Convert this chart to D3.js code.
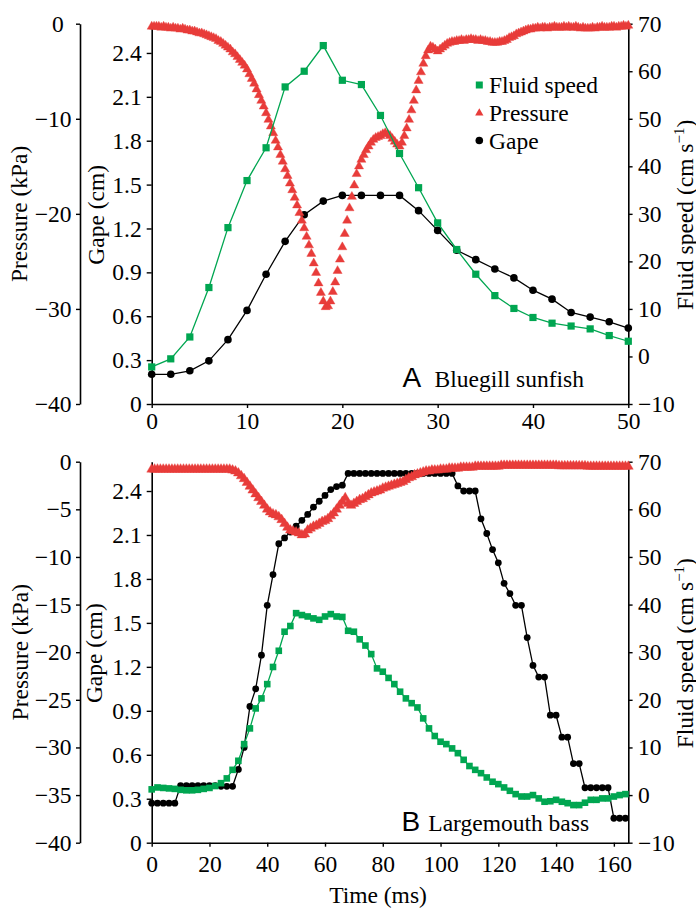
<!DOCTYPE html>
<html><head><meta charset="utf-8">
<script src="https://cdn.jsdelivr.net/npm/d3@7"></script>
<style>
body{margin:0;background:#fff}
svg{display:block}
text{font-family:"Liberation Serif","Times New Roman",serif;fill:#000}
</style>
</head><body>
<svg id="c" width="696" height="909"></svg>
<script>
// ---------------- DATA ----------------
// Panel A: Bluegill sunfish (time in ms)
const topSampleTimes = [0,2,4,6,8,10,12,14,16,18,20,22,24,26,28,30,32,34,36,38,40,42,44,46,48,50];
const topFluidSpeed = [-2.2,-0.5,4.1,14.5,27.1,37.0,43.9,56.7,60.0,65.4,58.1,57.2,50.7,42.7,35.5,28.1,22.5,17.3,12.8,10.1,8.2,7.0,6.4,5.8,4.4,3.2];
const topGape = [0.203,0.203,0.227,0.295,0.44,0.64,0.887,1.112,1.294,1.387,1.426,1.426,1.426,1.426,1.322,1.187,1.051,0.987,0.923,0.862,0.778,0.717,0.626,0.594,0.562,0.519];
const topPressureStep = 0.25; // ms between pressure samples
const topPressure = [
-0.3,-0.3,-0.3,-0.3, -0.4,-0.3,-0.4,-0.4, -0.5,-0.4,-0.5,-0.5, -0.6,-0.5,-0.6,-0.7,
-0.7,-0.8,-0.8,-0.9, -1.0,-1.0,-1.1,-1.2, -1.3,-1.4,-1.5,-1.6, -1.8,-1.9,-2.1,-2.3,
-2.5,-2.7,-3.0,-3.2, -3.5,-3.8,-4.1,-4.4, -4.8,-5.3,-5.8,-6.3, -6.9,-7.5,-8.1,-8.7,
-9.4,-10.1,-10.8,-11.5, -12.3,-13.0,-13.8,-14.5, -15.3,-16.0,-16.8,-17.5, -18.3,-19.1,-19.9,-20.7,
-21.5,-22.4,-23.3,-24.2, -25.2,-26.2,-27.3,-28.3, -29.2,-29.8,-29.7,-29.2, -28.2,-27.2,-26.0,-24.8,
-23.5,-22.1,-20.7,-19.4, -18.2,-17.0,-15.8,-15.0, -14.3,-13.8,-13.3,-12.9, -12.5,-12.2,-12.0,-11.9,
-11.8,-11.6,-11.5,-11.6, -11.8,-12.1,-12.4,-12.7, -12.9,-12.5,-11.8,-11.0, -10.1,-9.1,-8.1,-7.0,
-6.0,-5.1,-4.2,-3.4, -2.8,-2.4,-2.5,-2.7, -2.9,-2.7,-2.5,-2.3, -2.1,-2.0,-1.9,-1.9,
-1.8,-1.8,-1.7,-1.8, -1.7,-1.7,-1.6,-1.7, -1.7,-1.8,-1.7,-1.8, -1.8,-1.9,-1.9,-2.0,
-2.0,-2.0,-1.9,-1.9, -1.8,-1.7,-1.5,-1.4, -1.3,-1.1,-1.0,-0.9, -0.8,-0.7,-0.6,-0.6,
-0.5,-0.5,-0.4,-0.5, -0.4,-0.4,-0.5,-0.4, -0.4,-0.3,-0.4,-0.4, -0.4,-0.3,-0.4,-0.3,
-0.4,-0.4,-0.3,-0.4, -0.5,-0.4,-0.5,-0.5, -0.5,-0.4,-0.5,-0.4, -0.4,-0.3,-0.4,-0.4,
-0.4,-0.3,-0.3,-0.4, -0.3,-0.3,-0.2,-0.3, -0.2];

// Panel B: Largemouth bass
const botSampleStep = 2;   // ms between gape / fluid samples
const botFluidSpeed = [1.2,1.6,1.5,1.4,1.3,1.1,1.0,1.0,1.1,1.3,1.5,
 1.9,2.5,3.5,5.3,7.2,10.7,14.0,18.2,20.3,23.3,
 26.9,30.3,34.3,35.5,38.2,37.8,37.5,37.1,36.8,37.5,
 38.0,37.5,37.4,34.5,34.3,32.7,31.4,29.6,26.6,25.9,
 24.6,23.3,21.7,20.3,19.3,18.4,16.1,14.0,12.4,11.2,
 10.7,9.8,8.8,7.4,6.1,5.3,4.6,3.7,2.8,2.3,
 1.6,0.9,0.2,-0.3,-0.3,0.0,-0.7,-1.4,-1.3,-1.0,
 -1.4,-1.7,-2.1,-2.1,-1.6,-1.0,-1.0,-0.7,-0.7,-0.3,
 0.0,0.2];
const botGape = [0.27,0.27,0.27,0.27,0.27,0.39,0.39,0.39,0.39,0.39,0.39,0.39,0.385,0.385,0.385,
 0.50,0.65,0.93,1.05,1.28,1.62,1.83,2.04,2.08,2.12,2.16,2.20,2.24,2.29,2.33,2.37,2.41,2.43,2.44,
 2.52,2.52,2.52,2.52,2.52,2.52,2.52,2.52,2.52,2.52,2.52,2.52,2.52,2.52,2.52,2.52,2.52,2.52,2.52,
 2.435,2.40,2.40,2.40,2.21,2.11,2.00,1.91,1.77,1.70,1.62,1.62,1.40,1.21,1.13,1.13,0.87,0.87,0.72,0.72,
 0.54,0.54,0.375,0.375,0.375,0.375,0.375,0.167,0.167,0.167];
const botPressureStep = 1; // ms
const botPressure = [
-0.8,-0.8,-0.8,-0.8,-0.8,-0.8,-0.8,-0.8,-0.8,-0.8,-0.8,-0.8,-0.8,-0.8,-0.8,-0.8,-0.8,-0.8,-0.8,-0.8,
-0.8,-0.8,-0.8,-0.8,-0.8,-0.8,-0.8,-0.8,
-0.9,-1.0,-1.2,-1.5,-1.8,-2.2,-2.6,-3.0,-3.4,-3.8,-4.2,-4.6,-5.0,-5.3,-5.5,-5.6,-5.8,-6.1,-6.5,-6.9,
-7.2,-7.3,-7.4,-7.5,-7.7,-7.6,-7.2,-7.0,-6.8,-6.7,-6.5,-6.3,-6.2,-6.0,-5.7,-5.4,-5.0,-4.6,-4.2,-3.8,
-4.4,-4.6,-4.4,-4.2,-4.0,-3.9,-3.7,-3.5,-3.3,-3.2,-3.1,-3.0,-2.8,-2.7,-2.6,-2.5,-2.4,-2.3,-2.2,-2.1,
-1.9,-1.7,-1.6,-1.4,-1.3,-1.2,-1.1,-1.0,-1.0,-0.9,-0.9,-0.9,-0.8,-0.8,-0.8,-0.7,-0.7,-0.7,-0.7,-0.6,
-0.6,-0.6,-0.6,-0.6,-0.5,
-0.5,-0.5,-0.5,-0.5,-0.5,-0.5,-0.5,-0.5,
-0.4,-0.4,-0.4,-0.4,-0.4,-0.4,-0.4,-0.4,-0.4,-0.4,-0.4,-0.4,-0.4,-0.4,-0.4,-0.4,-0.4,-0.4,-0.4,-0.4,
-0.45,-0.45,-0.45,-0.45,-0.45,-0.45,-0.45,-0.45,-0.45,-0.45,
-0.5,-0.5,-0.5,-0.5,-0.5,-0.5,-0.5,-0.5,-0.5,-0.5,-0.5,-0.5,-0.5,-0.5,-0.5];

// Ticks
const topTimeTicks = [0,10,20,30,40,50];
const botTimeTicks = [0,20,40,60,80,100,120,140,160];
const topPressureTicks = [0,-10,-20,-30,-40];
const botPressureTicks = [0,-5,-10,-15,-20,-25,-30,-35,-40];
const gapeTicks = [0,0.3,0.6,0.9,1.2,1.5,1.8,2.1,2.4];
const fluidTicks = [-10,0,10,20,30,40,50,60,70];
const legendLabels = ["Fluid speed","Pressure","Gape"];

// ---------------- DRAW ----------------
const RED = "#e83c3a", GREEN = "#00a651", BLACK = "#000";
const FS = 23.5;
const svg = d3.select("#c");
const X0 = 151.7, X1 = 628.3, PX = 80;
const minus = d => d === 0 ? "0" : (d < 0 ? "\u2212" + Math.abs(d) : String(d));

function styleAxis(sel){
  sel.selectAll("path.domain").attr("stroke","#000").attr("stroke-width",1.6);
  sel.selectAll(".tick line").attr("stroke","#000").attr("stroke-width",1.4);
  sel.selectAll(".tick text").attr("font-size",FS).attr("fill","#000");
}

function panel(o){
  const x = d3.scaleLinear().domain(o.xDomain).range([X0, X1]);
  const yP = d3.scaleLinear().domain([-40,0]).range([o.y1, o.y0]);
  const yG = d3.scaleLinear().domain([0,2.6]).range([o.y1, o.y0]);
  const yF = d3.scaleLinear().domain([-10,70]).range([o.y1, o.y0]);
  const g = svg.append("g");

  const aP = g.append("g").attr("transform",`translate(${PX},0)`)
    .call(d3.axisLeft(yP).tickValues(o.pTicks).tickFormat(minus).tickSize(4).tickSizeOuter(0).tickPadding(4.5));
  styleAxis(aP);
  if (o.zeroShift) aP.selectAll(".tick text").filter(d => d === 0).attr("dx", o.zeroShift);

  const aG = g.append("g").attr("transform",`translate(${X0},0)`)
    .call(d3.axisLeft(yG).tickValues(gapeTicks).tickFormat(d => d === 0 ? "0" : d3.format(".1f")(d)).tickSize(5).tickSizeOuter(0).tickPadding(5));
  styleAxis(aG);

  const aF = g.append("g").attr("transform",`translate(${X1},0)`)
    .call(d3.axisRight(yF).tickValues(fluidTicks).tickFormat(minus).tickSize(4.3).tickSizeOuter(0).tickPadding(5.5));
  styleAxis(aF);

  const aX = g.append("g").attr("transform",`translate(0,${o.y1})`)
    .call(d3.axisBottom(x).tickValues(o.xTicks).tickSize(4).tickSizeOuter(0).tickPadding(o.xPad));
  styleAxis(aX);

  g.append("text").attr("transform",`translate(${o.pTitleX},${(o.y0+o.y1)/2}) rotate(-90)`)
    .attr("text-anchor","middle").attr("font-size",FS).text("Pressure (kPa)");
  g.append("text").attr("transform",`translate(${o.gTitleX},${(o.y0+o.y1)/2+1}) rotate(-90)`)
    .attr("text-anchor","middle").attr("font-size",FS).text("Gape (cm)");
  const ft = g.append("text").attr("transform",`translate(692.5,${(o.y0+o.y1)/2+1}) rotate(-90)`)
    .attr("text-anchor","middle").attr("font-size",FS);
  ft.append("tspan").text("Fluid speed (cm s");
  ft.append("tspan").attr("font-size",15).attr("dy",-9).text("\u22121");
  ft.append("tspan").attr("dy",9).text(")");

  const tOf = i => o.times ? o.times[i] : i*o.step;
  const gapeData = o.gape.map((v,i) => ({t: tOf(i), v}));
  const fluidData = o.fluid.map((v,i) => ({t: tOf(i), v}));
  const pData = o.pressure.map((v,i) => ({t: i*o.pStep, v}));

  g.append("path").datum(gapeData)
    .attr("d", d3.line().x(d => x(d.t)).y(d => yG(d.v)))
    .attr("fill","none").attr("stroke",BLACK).attr("stroke-width",1.3);
  g.append("g").selectAll("circle").data(gapeData).join("circle")
    .attr("cx", d => x(d.t)).attr("cy", d => yG(d.v)).attr("r", o.r).attr("fill",BLACK);

  const tri = d3.symbol(d3.symbolTriangle, o.triSize)();
  g.append("g").selectAll("path").data(pData).join("path")
    .attr("transform", d => `translate(${x(d.t)},${yP(d.v)})`)
    .attr("d", tri).attr("fill", RED).attr("stroke", RED).attr("stroke-width", 0.4);

  g.append("path").datum(fluidData)
    .attr("d", d3.line().x(d => x(d.t)).y(d => yF(d.v)))
    .attr("fill","none").attr("stroke",GREEN).attr("stroke-width",1.3);
  g.append("g").selectAll("rect").data(fluidData).join("rect")
    .attr("x", d => x(d.t) - o.sq/2).attr("y", d => yF(d.v) - o.sq/2)
    .attr("width", o.sq).attr("height", o.sq).attr("fill", GREEN);

  const lab = g.append("text").attr("y", o.labelY).attr("font-size",FS);
  lab.append("tspan").attr("x", o.letterX).style("font-family","'Liberation Sans', Arial, sans-serif").attr("font-size",28).text(o.letter);
  lab.append("tspan").attr("x", o.nameX).text(o.name);

  if (o.legend){
    const lg = g.append("g");
    const ly = [85, 113, 140.5];
    lg.append("rect").attr("x",479.3-3.5).attr("y",ly[0]-3.5).attr("width",7).attr("height",7).attr("fill",GREEN);
    lg.append("path").attr("transform",`translate(479.3,${ly[1]})`).attr("d",d3.symbol(d3.symbolTriangle, 30)()).attr("fill",RED);
    lg.append("circle").attr("cx",479.3).attr("cy",ly[2]).attr("r",3.8).attr("fill",BLACK);
    legendLabels.forEach((s,i) => lg.append("text").attr("x",489).attr("y",ly[i]+8).attr("font-size",FS).text(s));
  }
}

panel({
  y0: 23.7, y1: 404, xDomain: [0,50], xTicks: topTimeTicks, xPad: 4,
  pTicks: topPressureTicks, zeroShift: -7.7,
  pTitleX: 27, gTitleX: 104,
  times: topSampleTimes, step: 2, fluid: topFluidSpeed, gape: topGape,
  pressure: topPressure, pStep: topPressureStep,
  r: 3.8, sq: 7.2, triSize: 36,
  letter: "A", letterX: 402.5, name: "Bluegill sunfish", nameX: 434.5, labelY: 386.7,
  legend: true
});

panel({
  y0: 461.7, y1: 842.7, xDomain: [0,165], xTicks: botTimeTicks, xPad: 8.5,
  pTicks: botPressureTicks, zeroShift: 0,
  pTitleX: 28, gTitleX: 102,
  times: null, step: botSampleStep, fluid: botFluidSpeed, gape: botGape,
  pressure: botPressure, pStep: botPressureStep,
  r: 3.4, sq: 6.6, triSize: 42,
  letter: "B", letterX: 401.5, name: "Largemouth bass", nameX: 428.3, labelY: 830.7,
  legend: false
});

svg.append("text").attr("x",378).attr("y",903).attr("text-anchor","middle").attr("font-size",FS).text("Time (ms)");
</script>
</body></html>
